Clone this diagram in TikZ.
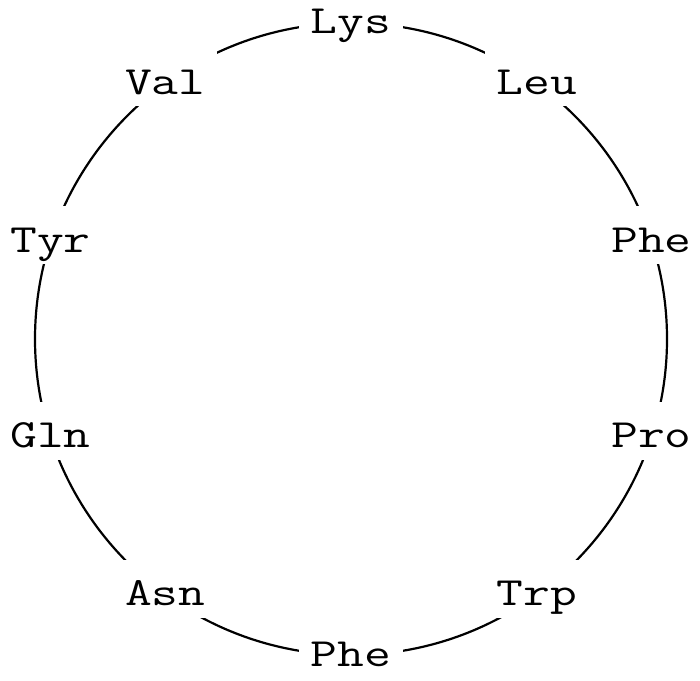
\documentclass[tikz,border=0pt]{standalone}
\usepackage{tikz}
\usetikzlibrary{positioning,calc}

\newcommand{\reslabel}[1]{\scalebox{1.3}[1]{#1}}
\tikzset{residue/.style={fill=white, inner xsep=6pt, inner ysep=6pt,
    font=\ttfamily\fontsize{20}{24}\selectfont, text height=17pt, text depth=0pt,
    yshift=3pt}}

\begin{document}
\begin{tikzpicture}[x=1pt,y=1pt]
\useasboundingbox (0,0) rectangle (350,340);
\coordinate (ctr) at (175.5,170.5);
\draw[line width=1.1pt] (ctr) circle (158);
% residues around the ring
\foreach \name/\ang [count=\i] in {Lys/90,Leu/54,Phe/18,Pro/-18,Trp/-54,
    Phe/-90,Asn/-126,Gln/-162,Tyr/162,Val/126}
  \node[residue] (r\i) at ($(ctr)+(\ang:158)$) {\reslabel{\name}};
\end{tikzpicture}
\end{document}
